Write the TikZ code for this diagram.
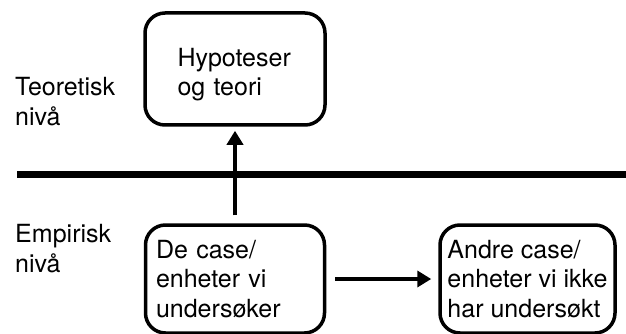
\documentclass[tikz,border=0pt]{standalone}
\usepackage{fontspec}
\setmainfont{TeX Gyre Heros}
\usetikzlibrary{arrows.meta}

\tikzset{
  txt/.style={font=\fontsize{25}{29.5}\selectfont, inner sep=0pt},
  box/.style={txt, draw, line width=3.5pt, rounded corners=20pt, align=left},
  level/.style={txt, align=left, anchor=base west},
  arr/.style={line width=3.5pt, -{Triangle[length=14pt,width=16pt]}},
  divider/.style={line width=7pt}
}

\begin{document}
\begin{tikzpicture}[x=1pt,y=-1pt]
  \useasboundingbox (0,0) rectangle (626,334);

  % level labels on the left (placed by the baseline of their last line)
  \node[level] (teo) at (15,125) {Teoretisk\\nivå};
  \node[level] (emp) at (15,272) {Empirisk\\nivå};

  % line between the theoretical and the empirical level
  \coordinate (divL) at (17,174);
  \coordinate (divR) at (626,174);
  \draw[divider] (divL) -- (divR);

  % boxes
  \node[box, minimum width=180pt, minimum height=112pt, text width=115pt, text depth=24pt]
    (hyp) at (235,69) {Hypoteser\\og teori};
  \node[box, minimum width=179pt, minimum height=108pt, text width=158pt]
    (cases) at (235,279) {De case/\\enheter vi\\undersøker};
  \node[box, minimum width=175pt, minimum height=108pt]
    (other) at (527.5,279) {Andre case/\\enheter vi ikke\\har undersøkt};

  % connectors
  \draw[arr, shorten <=8pt, shorten >=4pt] (cases.north) -- (hyp.south);
  \draw[arr, shorten <=9pt, shorten >=7pt] (cases.east) -- (other.west);
\end{tikzpicture}
\end{document}
